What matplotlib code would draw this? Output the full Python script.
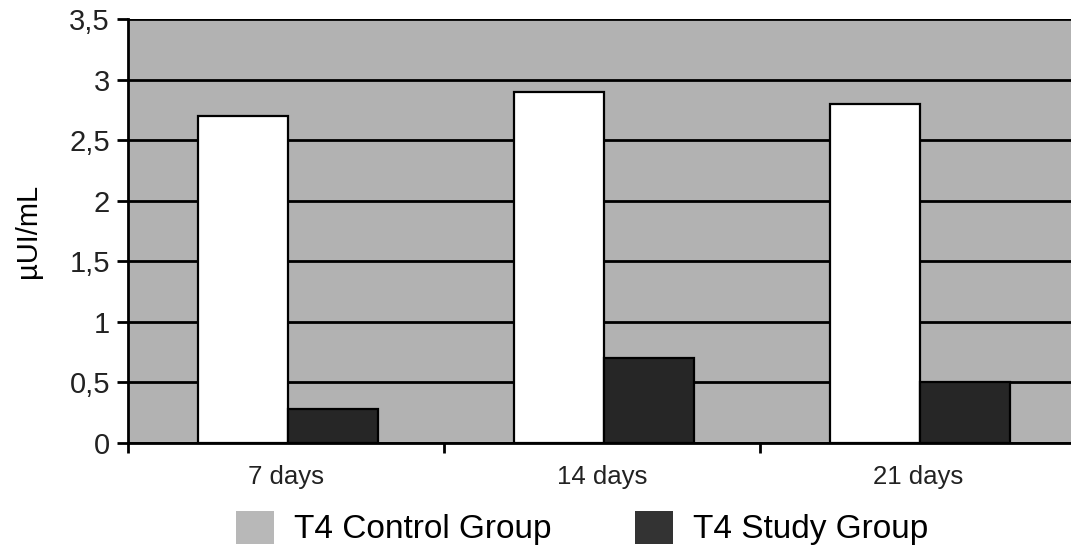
import matplotlib.pyplot as plt
import numpy as np
from matplotlib.patches import Patch

plt.rcParams['font.family'] = ['Liberation Sans', 'DejaVu Sans']

categories = ['7 days', '14 days', '21 days']
control = [2.7, 2.9, 2.8]
study = [0.28, 0.7, 0.5]
yticks = [0, 0.5, 1, 1.5, 2, 2.5, 3, 3.5]
ytick_labels = ['0', '0,5', '1', '1,5', '2', '2,5', '3', '3,5']

fig = plt.figure(figsize=(10.71, 5.52), dpi=100)
ax = fig.add_axes([128 / 1071, 109 / 552, 948 / 1071, 424 / 552])
ax.set_facecolor('#b2b2b2')

x = np.arange(len(categories)) + 0.006
w = 0.285
ax.set_axisbelow(True)
ax.yaxis.grid(True, color='black', linewidth=2)
ax.bar(x - w / 2, control, w, color='white', edgecolor='black', linewidth=1.6,
       label='T4 Control Group')
ax.bar(x + w / 2, study, w, color='#262626', edgecolor='black', linewidth=1.6,
       label='T4 Study Group')

ax.set_xlim(-0.5, 2.5)
ax.set_ylim(0, 3.5)
ax.set_yticks(yticks)
ax.set_yticklabels(ytick_labels)
ax.set_xticks(np.arange(len(categories)))
ax.set_xticklabels(categories)
ax.set_xticks([-0.5, 0.5, 1.5, 2.5], minor=True)
ax.tick_params(axis='x', which='major', length=0, pad=16, labelsize=18.5, labelcolor='#222222')
ax.tick_params(axis='x', which='minor', length=7, width=2, direction='out')
ax.tick_params(axis='y', length=8, width=2, pad=5, labelsize=21, labelcolor='#222222')
for s in ['top', 'right']:
    ax.spines[s].set_visible(False)
for s in ['left', 'bottom']:
    ax.spines[s].set_linewidth(2)

ax.set_ylabel('µUI/mL', fontsize=21, labelpad=20)

handles = [Patch(facecolor='#b8b8b8', edgecolor='none'),
           Patch(facecolor='#333333', edgecolor='none')]
fig.legend(handles, ['T4 Control Group', 'T4 Study Group'], loc='center',
           bbox_to_anchor=(582 / 1071, 1 - 528 / 552), ncol=2, frameon=False,
           fontsize=24, handlelength=1.15, handleheight=1.15, handletextpad=0.6,
           columnspacing=2.5)

fig.savefig('out.png', dpi=100)
